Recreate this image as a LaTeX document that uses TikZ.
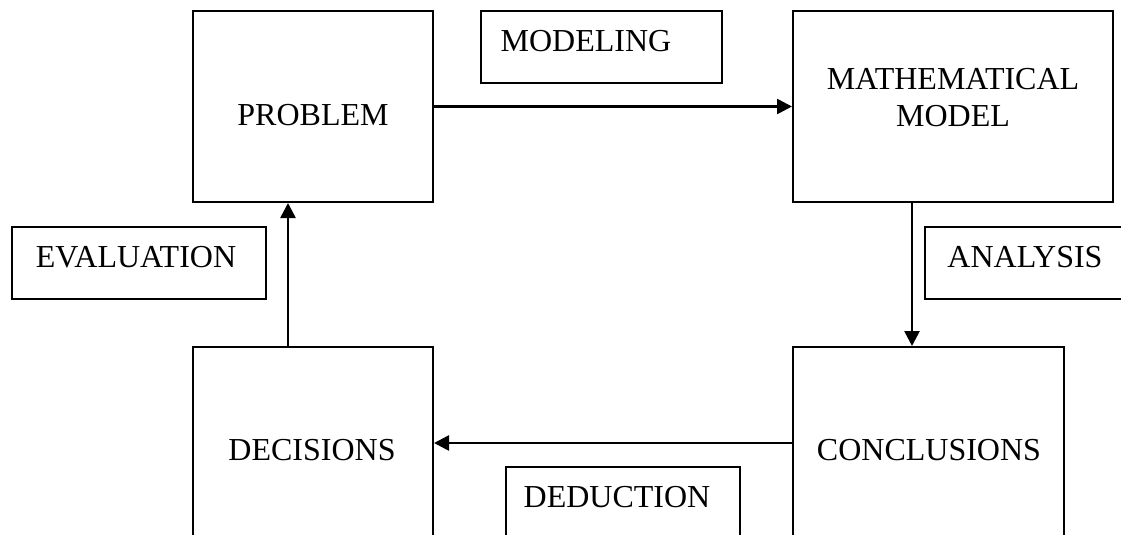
\documentclass[tikz,border=0pt]{standalone}
\usepackage{fontspec}
\setmainfont{Liberation Serif}
\usepackage{tikz}
\usetikzlibrary{arrows.meta,calc,positioning}
\tikzset{
x=1pt, y=-1pt, % one unit is one pixel of the page, y runs downwards
box/.style={draw, line width=2pt, inner sep=0pt}, % the frame round every node
txt/.style={inner sep=0pt, align=center, font=\fontsize{32}{37}\selectfont}, % the words in a frame
link/.style={line width=2.6pt, -{Triangle[length=15pt,width=15pt]}} % the directed edges
}

\begin{document}
\begin{tikzpicture}
    \useasboundingbox (0,0) rectangle (1121,535);
    \clip (0,0) rectangle (1121,535);
    \fill [white] (0,0) rectangle (1121,535);
    % the four stages
    \node (problem) [box, minimum width=240pt, minimum height=191pt] at (313,106.5) {};
    \node (problemtxt) [txt] at (313,115) {PROBLEM};
    \node (model) [box, minimum width=320pt, minimum height=191pt] at (953,106.5) {};
    \node (modeltxt) [txt] at (953,97.5) {MATHEMATICAL\\MODEL};
    \node (concl) [box, minimum width=271pt, minimum height=192pt] at (928.5,443) {};
    \node (concltxt) [txt] at (929,450) {CONCLUSIONS};
    \node (decis) [box, minimum width=240pt, minimum height=192pt] at (313,443) {};
    \node (decistxt) [txt] at (312,450) {DECISIONS};
    % the steps between them
    \node (modeling) [box, minimum width=241pt, minimum height=72pt] at (601.5,47) {};
    \node (modelingtxt) [txt] at (586,41) {MODELING};
    \node (analysis) [box, minimum width=210pt, minimum height=72pt] at (1030,263) {};
    \node (analysistxt) [txt] at (1025,257) {ANALYSIS};
    \node (deduct) [box, minimum width=234pt, minimum height=72pt] at (623,503) {};
    \node (deducttxt) [txt] at (617,497) {DEDUCTION};
    \node (evalu) [box, minimum width=254pt, minimum height=72pt] at (139,263) {};
    \node (evalutxt) [txt] at (136,257) {EVALUATION};
    % the cycle
    \draw [link] (problem.east) -- (model.west);
    \draw [link] ($(model.south west)+(120,0)$) -- ($(concl.north west)+(120,0)$);
    \draw [link] (concl.west) -- (decis.east);
    \draw [link] ($(decis.north west)+(96,0)$) -- ($(problem.south west)+(96,0)$);
\end{tikzpicture}
\end{document}
